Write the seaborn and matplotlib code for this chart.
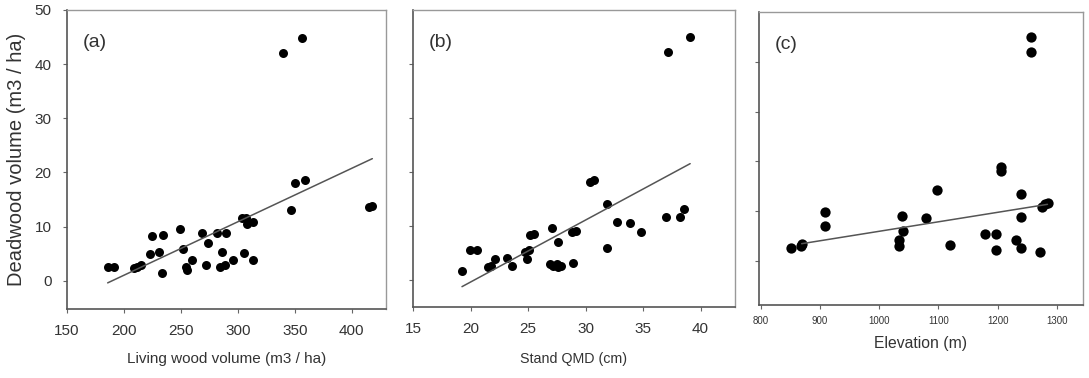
import numpy as np
import pandas as pd
import seaborn as sns
import matplotlib.pyplot as plt

# deadwood volume against three stand descriptors
sns.set_style('ticks')
plt.rcParams['font.family'] = ['Liberation Sans', 'DejaVu Sans']

# ---- panel (a): living wood volume ----
living_vol = [185.7, 191, 208.5, 211.4, 215, 223, 225, 231, 233, 234, 249.4, 251.5, 254.4,
              255, 260, 268.4, 271.6, 273.4, 281.6, 284.5, 286, 289, 290, 295.8, 303.8, 305,
              306.7, 307.6, 313.5, 313, 340, 346.5, 349.7, 356, 359, 415, 418]
dead_a = [2.6, 2.6, 2.3, 2.6, 3.0, 5.0, 8.2, 5.3, 1.5, 8.5, 9.5, 5.8, 2.6,
          2.0, 3.9, 8.8, 3.0, 7.0, 8.9, 2.6, 5.4, 3.0, 8.9, 3.9, 11.6, 5.1,
          11.6, 10.5, 10.8, 3.9, 42.1, 13.1, 18.0, 44.9, 18.6, 13.7, 13.9]

# ---- panel (b): stand QMD ----
stand_qmd = [19.26, 19.93, 20.57, 21.5, 21.8, 22.1, 23.2, 23.6, 24.7, 24.9, 25.1, 25.15,
             25.5, 27.1, 26.9, 27.2, 27.5, 27.6, 27.9, 27.6, 28.8, 29.2, 28.9, 30.4, 30.7,
             31.9, 31.9, 32.7, 33.9, 34.8, 37.0, 37.2, 38.2, 38.6, 39.1]
dead_b = [1.74, 5.47, 5.47, 2.36, 2.67, 3.9, 4.1, 2.67, 5.2, 3.9, 5.5, 8.3,
          8.6, 9.7, 3.0, 2.67, 3.0, 2.5, 2.67, 7.0, 8.9, 9.1, 3.1, 18.2, 18.5,
          14.1, 6.0, 10.8, 10.6, 8.9, 11.6, 42.3, 11.6, 13.2, 45.0]

# ---- panel (c): elevation ----
elevation = [850.4, 867.8, 869, 908, 908, 1033, 1033, 1038.5, 1040.7, 1078.8, 1096.8,
             1119, 1178.5, 1196.4, 1196.4, 1204.8, 1204.8, 1231, 1239, 1239.5, 1239.5,
             1257, 1257, 1272, 1274.8, 1280, 1284.9]
dead_c = [2.54, 3.0, 3.4, 9.9, 7.1, 4.2, 3.0, 9.0, 6.1, 8.6, 14.2,
          3.2, 5.35, 5.35, 2.2, 18.8, 18.1, 4.3, 13.4, 8.9, 2.7,
          44.9, 42.0, 1.9, 10.8, 11.4, 11.7]
# trend line in (c) as drawn in the original (not a plain OLS on all points)
trend_c_x = [869, 1284]
trend_c_y = [3.5, 11.4]

df_a = pd.DataFrame({'x': living_vol, 'y': dead_a})
df_b = pd.DataFrame({'x': stand_qmd, 'y': dead_b})
df_c = pd.DataFrame({'x': elevation, 'y': dead_c})

W, H = 1089, 378
fig = plt.figure(figsize=(W / 100, H / 100), dpi=100)

def box(l, r, t, b):
    return [l / W, (H - b) / H, (r - l) / W, (b - t) / H]

ax_a = fig.add_axes(box(67, 386, 10, 309))
ax_b = fig.add_axes(box(413, 735, 10, 307))
ax_c = fig.add_axes(box(759, 1083, 12, 305))

txt = '#333333'
line_col = '#555555'
panels = [
    # ax, data, tag, xlabel, xlabel size, xlim, ylim, xticks, tick size, marker size, pads, fit
    (ax_a, df_a, '(a)', 'Living wood volume (m3 / ha)', 11, (150, 430), (-5.2, 50),
     [150, 200, 250, 300, 350, 400], 11, 42, (8, 10), True),
    (ax_b, df_b, '(b)', 'Stand QMD (cm)', 10.3, (15, 43), (-5, 50),
     [15, 20, 25, 30, 35, 40], 11, 42, (8, 11), True),
    (ax_c, df_c, '(c)', 'Elevation (m)', 11.3, (797, 1344), (-8.8, 50),
     [800, 900, 1000, 1100, 1200, 1300], 7, 55, (5, 7), False),
]

for ax, df, tag, xlab, xfs, xl, yl, xt, tfs, ms, pads, fit in panels:
    sns.regplot(x='x', y='y', data=df, ax=ax, ci=None, fit_reg=fit,
                scatter_kws={'color': 'black', 's': ms, 'linewidths': 0, 'alpha': 1},
                line_kws={'color': line_col, 'lw': 1.1})
    ax.set_xlim(*xl)
    ax.set_ylim(*yl)
    ax.set_xticks(xt)
    ax.set_yticks([0, 10, 20, 30, 40, 50] if ax is ax_a else [0, 10, 20, 30, 40])
    ax.set_xlabel(xlab, fontsize=xfs, color=txt, labelpad=pads[1])
    ax.set_ylabel('')
    ax.tick_params(direction='out', length=3, width=0.8, colors='#666666',
                   labelcolor=txt, labelsize=tfs, pad=pads[0])
    for side in ['top', 'right']:
        ax.spines[side].set_color('#999999')
        ax.spines[side].set_linewidth(1.0)
    for side in ['left', 'bottom']:
        ax.spines[side].set_color('#555555')
        ax.spines[side].set_linewidth(1.2)
    ax.text(0.05, 0.89, tag, transform=ax.transAxes, fontsize=14, color=txt,
            ha='left', va='center')

sns.lineplot(x=trend_c_x, y=trend_c_y, ax=ax_c, color=line_col, lw=1.1)

ax_a.set_ylabel('Deadwood volume (m3 / ha)', fontsize=14.5, color=txt, labelpad=6)
ax_b.set_yticklabels([])
ax_c.set_yticklabels([])

fig.savefig('out.png', dpi=100)
